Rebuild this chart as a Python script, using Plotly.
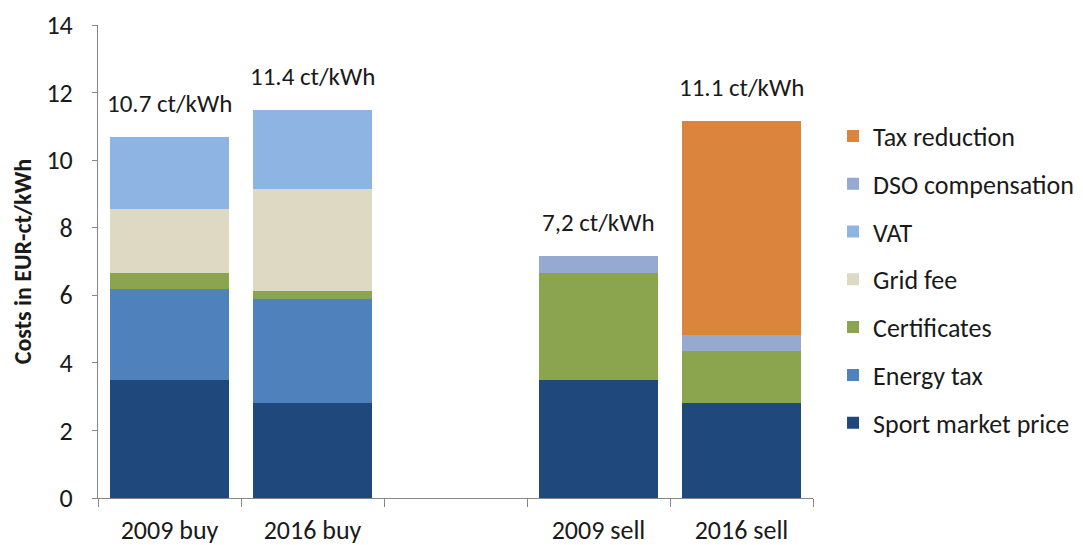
import plotly.graph_objects as go

categories = ["2009 buy", "2016 buy", " ", "2009 sell", "2016 sell"]
spot = [3.5, 2.8, None, 3.5, 2.8]
energy_tax = [2.7, 3.1, None, None, None]
certificates = [0.45, 0.22, None, 3.15, 1.54]
grid_fee = [1.9, 3.03, None, None, None]
vat = [2.13, 2.34, None, None, None]
dso = [None, None, None, 0.52, 0.49]
tax_reduction = [None, None, None, None, 6.33]
total_labels = ["10.7 ct/kWh", "11.4 ct/kWh", None, "7,2 ct/kWh", "11.1 ct/kWh"]

series = [
    ("Sport market price", spot, "#1F497D"),
    ("Energy tax", energy_tax, "#4F81BD"),
    ("Certificates", certificates, "#8BA54E"),
    ("Grid fee", grid_fee, "#DDD9C3"),
    ("VAT", vat, "#8EB4E3"),
    ("DSO compensation", dso, "#95A9D1"),
    ("Tax reduction", tax_reduction, "#DB843D"),
]

FONT = "Carlito, Lato, sans-serif"

fig = go.Figure()
n = len(series)
for i, (name, vals, color) in enumerate(series):
    fig.add_trace(go.Bar(x=categories, y=vals, name=name, marker_color=color,
                         marker_line_width=0, legendgroup=name, legendrank=n - i))

for i, lab in enumerate(total_labels):
    if lab is None:
        continue
    tot = sum(v[i] for _, v, _ in series if v[i] is not None)
    fig.add_annotation(x=categories[i], y=tot, text=lab, showarrow=False,
                       yanchor="bottom", yshift=16, font=dict(size=25, color="#1a1a1a", family=FONT))

fig.update_layout(
    barmode="stack",
    bargap=0.167,
    width=1083, height=545,
    margin=dict(l=90, r=274, t=17, b=55),
    plot_bgcolor="white", paper_bgcolor="white",
    font=dict(family=FONT, size=26, color="#1a1a1a"),
    legend=dict(traceorder="grouped", x=1.028, y=0.815, yanchor="top", xanchor="left",
                font=dict(size=26), tracegroupgap=11, itemwidth=30),
    xaxis=dict(showline=True, linecolor="#868686", ticks="outside", tickson="boundaries",
               ticklen=8, tickcolor="#868686", showgrid=False, tickfont=dict(size=26),
               automargin=False, ticklabelstandoff=9),
    yaxis=dict(range=[0, 14], dtick=2, showline=True, linecolor="#868686", ticks="outside",
               ticklen=5, tickcolor="#868686", showgrid=False, zeroline=False,
               tickfont=dict(size=26), automargin=False, ticklabelstandoff=14,
               title=dict(text="<b>Costs in EUR-ct/kWh</b>", font=dict(size=24), standoff=8)),
)

fig.write_html("out.html")
